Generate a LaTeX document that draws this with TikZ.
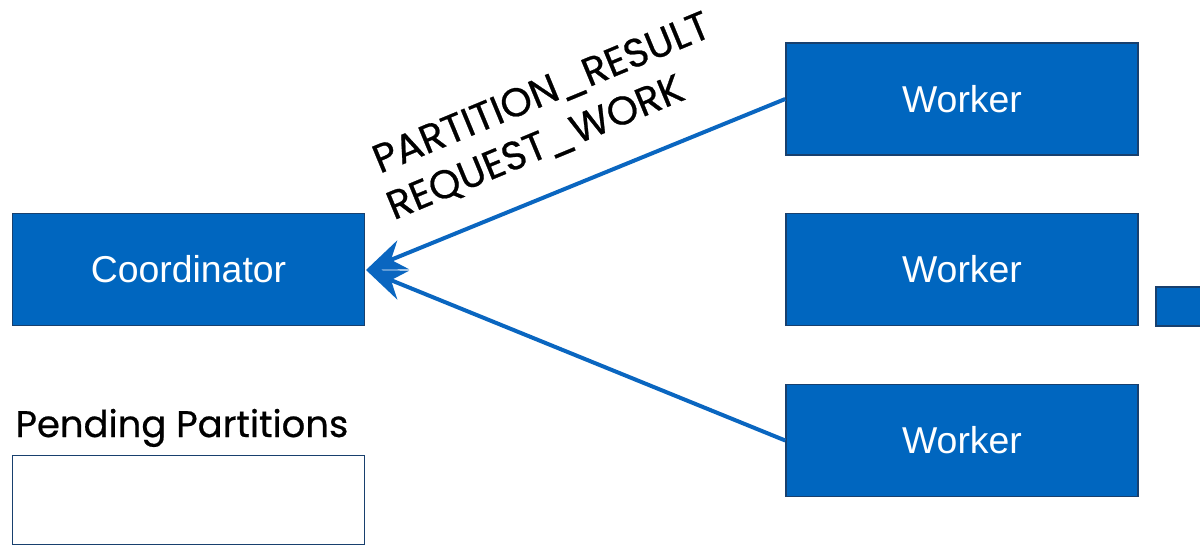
\documentclass[tikz,border=0pt]{standalone}
\usepackage{fontspec}
\setmainfont{Liberation Sans}
\newfontfamily\labelfont[FakeBold=0.6]{Poppins}
\usetikzlibrary{arrows.meta}
\definecolor{boxblue}{RGB}{0,102,191}
\definecolor{boxedge}{RGB}{24,64,110}
\definecolor{linkblue}{RGB}{10,102,192}
\tikzset{
  block/.style={draw=boxedge, line width=1.5pt, fill=boxblue, text=white,
    font=\fontsize{37.4}{42}\selectfont, inner sep=0pt},
  emptybox/.style={draw=boxedge, line width=1.5pt, fill=white, inner sep=0pt},
  link/.style={draw=linkblue, line width=4pt,
    -{Stealth[length=40pt, width=31pt, inset=13pt]}},
  msg/.style={font=\labelfont\fontsize{40}{44}\selectfont, text=black, rotate=22.5},
}
\begin{document}
\begin{tikzpicture}[x=1pt,y=-1pt]
\useasboundingbox (0,0) rectangle (1200,546);
% coordinator and pending queue
\node[block, minimum width=352pt, minimum height=112pt] (coord) at (188.5,269.5) {Coordinator};
\node[font=\labelfont\fontsize{37}{40}\selectfont, anchor=base west] (pendlbl) at (12,437) {Pending Partitions};
\node[emptybox, minimum width=352pt, minimum height=89pt] (pending) at (188.5,500) {};
% workers
\node[block, minimum width=352pt, minimum height=112pt] (w1) at (962,99) {Worker};
\node[block, minimum width=352pt, minimum height=112pt] (w2) at (962,269.5) {Worker};
\node[block, minimum width=352pt, minimum height=112pt] (w3) at (962,440.5) {Worker};
\node[block, minimum width=60pt, minimum height=39pt] (extra) at (1186,306.5) {};
% messages to the coordinator
\coordinate (tip) at (366,270);
\draw[link] (w1.west) -- (tip);
\draw[link] (w3.west) -- (tip);
\node[msg] (m1) at (542,94) {PARTITION\_RESULT};
\node[msg] (m2) at (536,149) {REQUEST\_WORK};
\end{tikzpicture}
\end{document}
